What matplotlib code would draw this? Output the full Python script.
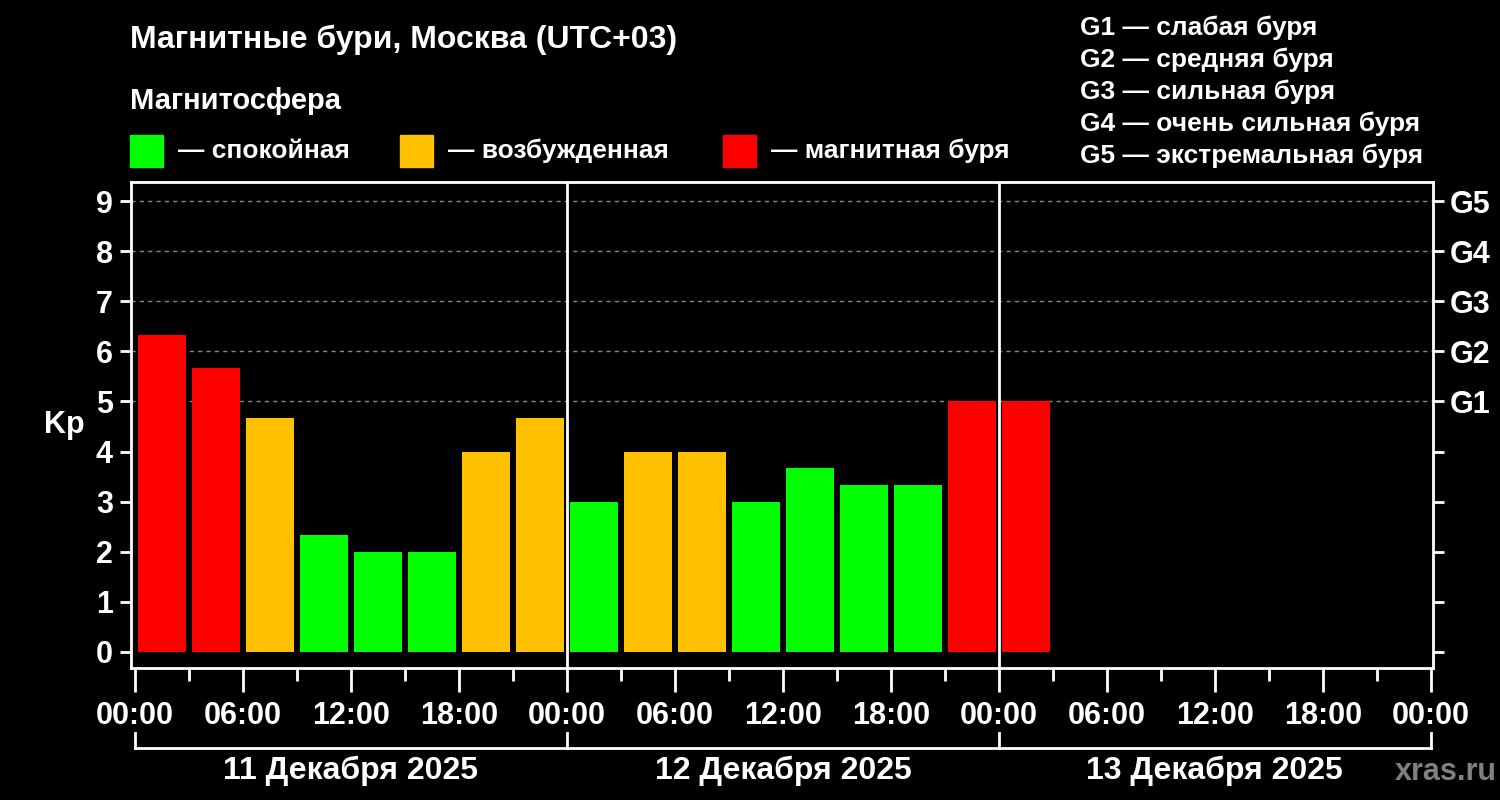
import matplotlib
matplotlib.use("Agg")
import matplotlib.pyplot as plt
from matplotlib.transforms import blended_transform_factory
from matplotlib.patches import Rectangle

plt.rcParams['font.family'] = ['Liberation Sans', 'DejaVu Sans']
plt.rcParams['font.weight'] = 'bold'

# ---- data ----
bar_hours = [0, 3, 6, 9, 12, 15, 18, 21, 24, 27, 30, 33, 36, 39, 42, 45, 48]
kp_values = [6.33, 5.67, 4.67, 2.33, 2.0, 2.0, 4.0, 4.67,
             3.0, 4.0, 4.0, 3.0, 3.67, 3.33, 3.33, 5.0, 5.0]
xtick_hours = [0, 6, 12, 18, 24, 30, 36, 42, 48, 54, 60, 66, 72]
xtick_labels = ["00:00", "06:00", "12:00", "18:00"] * 3 + ["00:00"]
day_labels = ["11 Декабря 2025", "12 Декабря 2025", "13 Декабря 2025"]
g_levels = [5, 6, 7, 8, 9]
g_names = ["G1", "G2", "G3", "G4", "G5"]
g_desc = ["G1 — слабая буря", "G2 — средняя буря", "G3 — сильная буря",
          "G4 — очень сильная буря", "G5 — экстремальная буря"]
legend_labels = ["— спокойная", "— возбужденная", "— магнитная буря"]
legend_colors = ["#00FF00", "#FFC000", "#FF0000"]
title = "Магнитные бури, Москва (UTC+03)"
subtitle = "Магнитосфера"

def kp_color(v):
    if v >= 5:
        return legend_colors[2]
    if v >= 4:
        return legend_colors[1]
    return legend_colors[0]

fig = plt.figure(figsize=(15, 8), dpi=100, facecolor="black")
ax = fig.add_axes([131/1500, 1-668/800, (1433-131)/1500, (668-182)/800])
ax.set_facecolor("black")

centers = [h + 1.5 for h in bar_hours]
ax.bar(centers, kp_values, width=2.7, color=[kp_color(v) for v in kp_values], zorder=2)

ax.set_xlim(-0.22, 72.12)
ax.set_ylim(-0.32, 9.38)

for lvl in g_levels:
    ax.axhline(lvl, color="#888888", lw=1, linestyle=(0, (3, 3)), zorder=1)
for d in (24, 48):
    ax.axvline(d, color="white", lw=2, zorder=3)

for sp in ax.spines.values():
    sp.set_color("white")
    sp.set_linewidth(2)

ax.set_yticks(range(10))
ax.set_yticklabels([str(i) for i in range(10)])
ax.tick_params(axis='y', colors="white", labelsize=22, length=8, width=2, pad=5)
ax.set_xticks(xtick_hours)
ax.set_xticklabels(xtick_labels)
ax.set_xticks([h + 3 for h in xtick_hours[:-1]], minor=True)
ax.tick_params(axis='x', which='major', colors="white", labelsize=22, length=17, width=2, pad=7)
ax.tick_params(axis='x', which='minor', colors="white", length=9, width=2)
for lbl in ax.get_xticklabels() + ax.get_yticklabels():
    lbl.set_fontweight('bold')

ax2 = ax.twinx()
ax2.set_ylim(ax.get_ylim())
ax2.set_yticks(range(10))
ax2.set_yticklabels(["" if i < 5 else g_names[i-5] for i in range(10)])
ax2.tick_params(axis='y', colors="white", labelsize=22, length=8, width=2, pad=4)
for lbl in ax2.get_yticklabels():
    lbl.set_fontweight('bold')
for sp in ax2.spines.values():
    sp.set_visible(False)

ax.set_ylabel("Kp", color="white", fontsize=22, fontweight='bold', rotation=0, labelpad=23, va='center')

# bottom bracket
tr = blended_transform_factory(ax.transData, fig.transFigure)
y_line = 1 - 748/800
y_top = 1 - 733/800
ax.plot([0, 72], [y_line, y_line], transform=tr, color="white", lw=2, clip_on=False)
for d in (0, 24, 48, 72):
    ax.plot([d, d], [y_line, y_top], transform=tr, color="white", lw=2, clip_on=False)
for i, lab in enumerate(day_labels):
    ax.text(12 + 24*i, 1 - 771/800, lab, transform=tr, color="white", fontsize=23,
            fontweight='bold', ha='center', va='center')

# header texts
fig.text(130/1500, 1 - 40/800, title, color="white", fontsize=23, fontweight='bold', va='center', ha='left')
fig.text(130/1500, 1 - 101/800, subtitle, color="white", fontsize=21, fontweight='bold', va='center', ha='left')

sq_x = [130, 400, 723]
for x0, lab, col in zip(sq_x, legend_labels, legend_colors):
    fig.patches.append(Rectangle((x0/1500, 1-167/800), 33/1500, 32/800,
                                 transform=fig.transFigure, color=col, figure=fig))
    fig.text((x0+48)/1500, 1 - 151/800, lab, color="white", fontsize=19,
             fontweight='bold', va='center', ha='left')

for i, txt in enumerate(g_desc):
    fig.text(1080/1500, 1 - (28 + 32*i)/800, txt, color="white", fontsize=19,
             fontweight='bold', va='center', ha='left')

fig.text(1497/1500, 1 - 772/800, "xras.ru", color="#808080", fontsize=22,
         fontweight='bold', va='center', ha='right')

fig.savefig("out.png", dpi=100, facecolor="black")
